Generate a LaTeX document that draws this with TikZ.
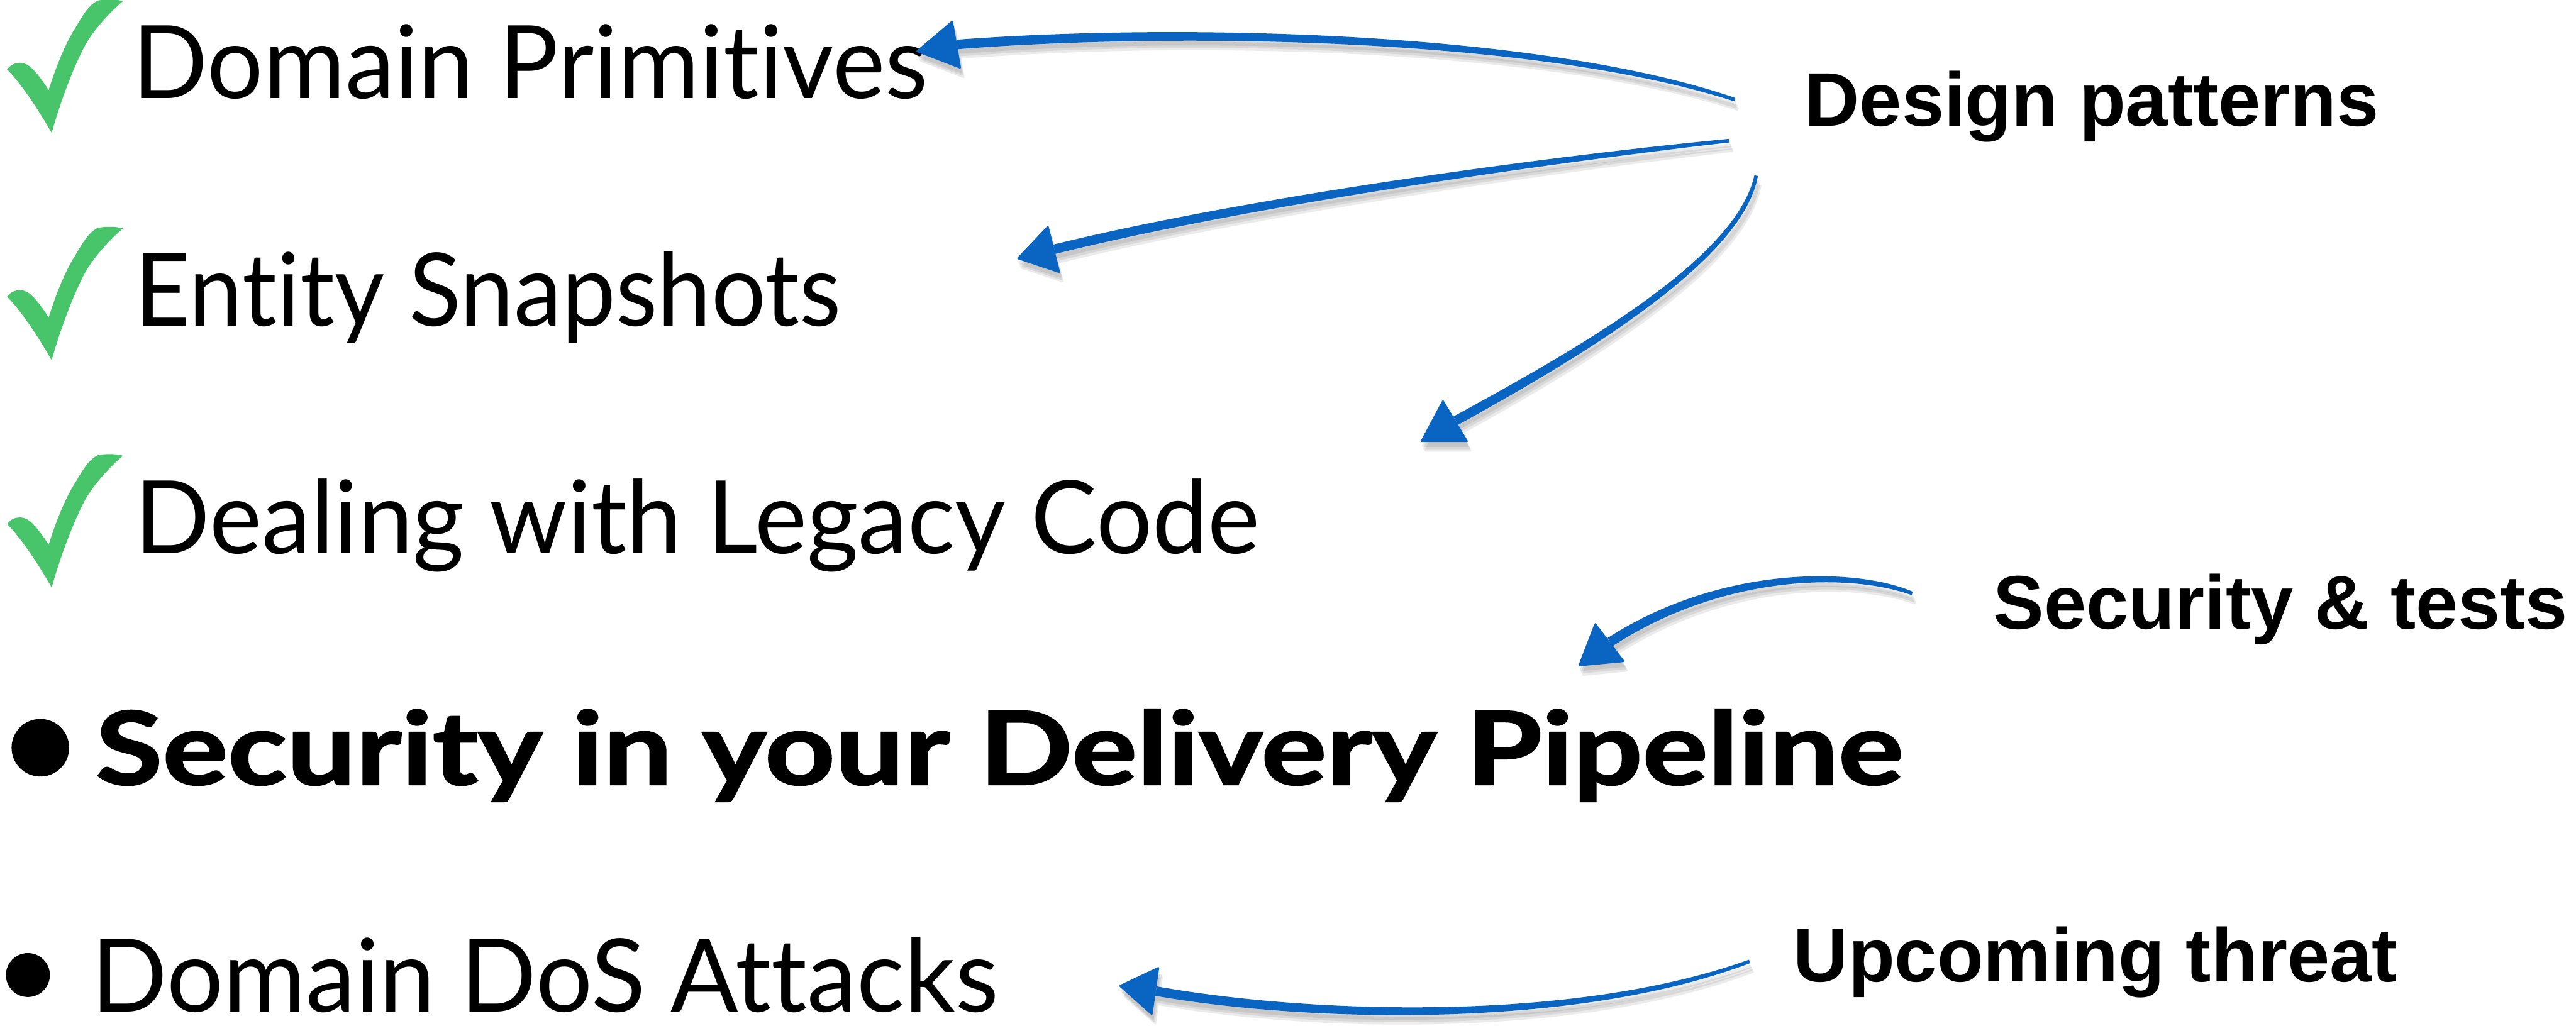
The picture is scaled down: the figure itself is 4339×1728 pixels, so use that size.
\documentclass[tikz,border=0pt]{standalone}
\usepackage{fontspec}
\setmainfont{Lato}[Ligatures={NoCommon}]
\newfontfamily\labelfont{Liberation Sans}
\usetikzlibrary{calc}

\definecolor{checkgreen}{RGB}{72,196,106}
\definecolor{brushblue}{RGB}{10,100,194}

% set a text to a given width (in pt) by horizontal scaling only
\newdimen\fitlen
\newcommand\fitw[2]{\settowidth{\fitlen}{#2}\pgfmathsetmacro\fitfac{#1/\fitlen}\scalebox{\fitfac}[1]{#2}}

% tapered brush shaft: start, control 1, control 2, end (thin at start, thick at end)
\newcommand\brushstroke[5][]{%
  \fill[#1] ($(#2)!0.3pt!90:(#3)$)
      .. controls ($(#3)!0.6pt!-90:(#2)$) and ($(#4)!0.75pt!90:(#5)$) .. ($(#5)!0.8pt!-90:(#4)$)
      -- ($(#5)!0.8pt!90:(#4)$)
      .. controls ($(#4)!0.75pt!-90:(#5)$) and ($(#3)!0.6pt!90:(#2)$) .. ($(#2)!0.3pt!-90:(#3)$)
      -- cycle;}
% triangular head: base centre, tip
\newcommand\brushhead[3][]{%
  \fill[#1, rounded corners=0.3pt] (#3) -- ($(#2)!4.2pt!90:(#3)$) -- ($(#2)!4.2pt!-90:(#3)$) -- cycle;}

\newcommand\allarrows[1]{%
  \brushstroke[#1]{a1s}{a1p}{a1q}{a1e}\brushhead[#1]{a1e}{a1t}%
  \brushstroke[#1]{a2s}{a2p}{a2q}{a2e}\brushhead[#1]{a2e}{a2t}%
  \brushstroke[#1]{a3s}{a3p}{a3q}{a3e}\brushhead[#1]{a3e}{a3t}%
  \brushstroke[#1]{a4s}{a4p}{a4q}{a4e}\brushhead[#1]{a4e}{a4t}%
  \brushstroke[#1]{a5s}{a5p}{a5q}{a5e}\brushhead[#1]{a5e}{a5t}}

\tikzset{
  item/.style={anchor=base west, inner sep=0pt, outer sep=0pt,
               font=\fontsize{17.1pt}{20pt}\selectfont},
  tag/.style={anchor=base west, inner sep=0pt, outer sep=0pt,
              font=\labelfont\bfseries\fontsize{12.8pt}{15pt}\selectfont},
  brushfill/.style={fill=brushblue},
  shadowfill/.style={fill=black, fill opacity=0.08},
  bulletdot/.style={circle, fill=black, inner sep=0pt},
  pics/tick/.style={code={
    \fill[checkgreen] (87,224)
      .. controls (65,185) and (35,140) .. (12,117)
      .. controls (20,105) and (38,102) .. (50,112)
      .. controls (62,122) and (72,137) .. (82,152)
      .. controls (95,110) and (112,70) .. (127,47)
      .. controls (140,25) and (150,8) .. (165,1)
      .. controls (180,-2) and (198,-1) .. (207,2)
      .. controls (180,25) and (155,55) .. (143,77)
      .. controls (128,105) and (105,160) .. (87,224) -- cycle;}}
}

\begin{document}
\begin{tikzpicture}[x=0.1pt,y=-0.1pt]
\fill[white] (0,0) rectangle (4339,1728);
\useasboundingbox (0,0) rectangle (4339,1728);

% check marks and bullets
\pic (t1) at (0,0) {tick};
\pic (t2) at (0,383) {tick};
\pic (t3) at (0,766) {tick};
\node[bulletdot, minimum size=9.7pt] (b1) at (68,1260) {};
\node[bulletdot, minimum size=7.4pt] (b2) at (47,1643) {};

% list items
\node[item] (dp)  at (223,166)  {\fitw{134.0}{Domain Primitives}};
\node[item] (es)  at (227,549)  {\fitw{119.0}{Entity Snapshots}};
\node[item] (dlc) at (227,933)  {\fitw{189.5}{Dealing with Legacy Code}};
\node[item] (sdp) at (161,1322) {\fitw{304.5}{\bfseries\addfontfeature{FakeBold=1.5}Security in your Delivery Pipeline}};
\node[item] (dos) at (154,1705) {\fitw{152.8}{Domain DoS Attacks}};

% side labels
\node[tag] (design)   at (3040,212)  {Design patterns};
\node[tag] (sectests) at (3358,1060) {Security \& tests};
\node[tag] (upcoming) at (3021,1654) {Upcoming threat};

% arrow geometry: start, two controls, end of shaft, tip
\coordinate (a1s) at (2922,168);  \coordinate (a1p) at (2600,60);
\coordinate (a1q) at (2000,45);   \coordinate (a1e) at (1612,75);   \coordinate (a1t) at (1542,87);
\coordinate (a2s) at (2913,237);  \coordinate (a2p) at (2600,270);
\coordinate (a2q) at (2100,340);  \coordinate (a2e) at (1776,420);  \coordinate (a2t) at (1712,436);
\coordinate (a3s) at (2958,296);  \coordinate (a3p) at (2930,440);
\coordinate (a3q) at (2650,600);  \coordinate (a3e) at (2452,709);  \coordinate (a3t) at (2392,745);
\coordinate (a4s) at (3221,1000); \coordinate (a4p) at (3120,960);
\coordinate (a4q) at (2900,960);  \coordinate (a4e) at (2712,1082); \coordinate (a4t) at (2658,1123);
\coordinate (a5s) at (2947,1620); \coordinate (a5p) at (2650,1730);
\coordinate (a5q) at (2200,1715); \coordinate (a5e) at (1947,1670); \coordinate (a5t) at (1884,1661);

% soft drop shadow under the brush arrows
\foreach \dx/\dy in {0.2/-0.8, 0.4/-1.2, 0.6/-1.6}{
  \begin{scope}[transform canvas={shift={(\dx pt,\dy pt)}}]
    \allarrows{shadowfill}
  \end{scope}}
\allarrows{brushfill}
\end{tikzpicture}
\end{document}
